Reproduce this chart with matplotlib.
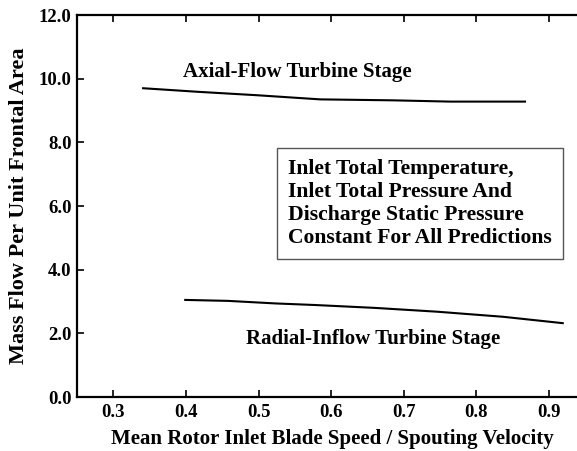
import numpy as np
import matplotlib
matplotlib.use("Agg")
import matplotlib.pyplot as plt

plt.rcParams['font.family'] = ['Liberation Serif', 'DejaVu Serif']
plt.rcParams['font.weight'] = 'bold'

# axial-flow turbine stage curve
axial_x = [0.341, 0.415, 0.498, 0.585, 0.685, 0.764, 0.867]
axial_y = [9.70, 9.59, 9.48, 9.35, 9.32, 9.28, 9.28]

# radial-inflow turbine stage curve
radial_x = [0.399, 0.458, 0.523, 0.578, 0.660, 0.746, 0.837, 0.919]
radial_y = [3.05, 3.02, 2.94, 2.89, 2.80, 2.68, 2.52, 2.32]

xticks = [0.3, 0.4, 0.5, 0.6, 0.7, 0.8, 0.9]
yticks = [0.0, 2.0, 4.0, 6.0, 8.0, 10.0, 12.0]

fig = plt.figure(figsize=(5.77, 4.51), dpi=100)
ax = fig.add_axes([0.1335, 0.1197, 0.8665, 0.847])

ax.plot(axial_x, axial_y, color='black', lw=1.5)
ax.plot(radial_x, radial_y, color='black', lw=1.5)

ax.set_xlim(0.25, 0.9386)
ax.set_ylim(0, 12)
ax.set_xticks(xticks)
ax.set_xticklabels(['%.1f' % v for v in xticks])
ax.set_yticks(yticks)
ax.set_yticklabels(['%.1f' % v for v in yticks])

for s in ['left', 'top', 'bottom']:
    ax.spines[s].set_linewidth(1.6)
ax.spines['right'].set_visible(False)
ax.tick_params(axis='x', direction='in', top=True, length=5, width=1.2,
               labelsize=13.5, pad=5)
ax.tick_params(axis='y', direction='in', length=5, width=1.2,
               labelsize=13.5, pad=4)
for lab in ax.get_xticklabels() + ax.get_yticklabels():
    lab.set_fontweight('bold')

ax.set_xlabel('Mean Rotor Inlet Blade Speed / Spouting Velocity',
              fontsize=15, fontweight='bold', labelpad=8)
ax.xaxis.set_label_coords(0.51, -0.085)
ax.set_ylabel('Mass Flow Per Unit Frontal Area',
              fontsize=16, fontweight='bold', labelpad=7)

ax.text(0.396, 10.21, 'Axial-Flow Turbine Stage', fontsize=15,
        fontweight='bold', va='center', ha='left')
ax.text(0.483, 1.82, 'Radial-Inflow Turbine Stage', fontsize=15,
        fontweight='bold', va='center', ha='left')

note = ('Inlet Total Temperature,\nInlet Total Pressure And\n'
        'Discharge Static Pressure\nConstant For All Predictions')
ax.text(0.5406, 6.08, note, fontsize=15.6, fontweight='bold',
        va='center', ha='left', linespacing=1.22,
        bbox=dict(boxstyle='square,pad=0.5', fc='white', ec='#555555', lw=1.0))

fig.savefig('out.png', dpi=100)
